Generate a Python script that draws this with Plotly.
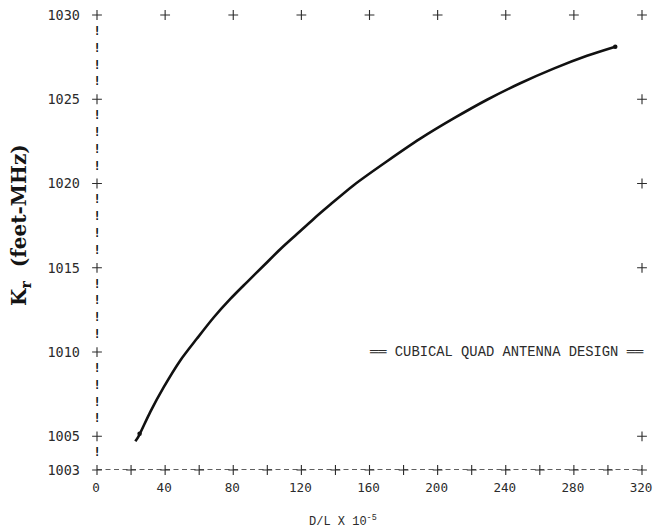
import plotly.graph_objects as go

# ---- data ----
dl_values = [22.5, 24.4, 31.3, 39.1, 48.9, 58.7, 68.5, 78.3, 88.1, 97.8, 107.6, 117.4, 127.2, 137.0,
             150.7, 170.3, 189.8, 209.4, 229.0, 248.5, 268.1, 287.7, 304.3]
kr_values = [1004.7, 1005.0, 1006.45, 1007.9, 1009.5, 1010.8, 1012.05, 1013.15, 1014.15, 1015.12, 1016.1,
             1017.0, 1017.9, 1018.75, 1019.9, 1021.32, 1022.66, 1023.86, 1024.97, 1025.95, 1026.82, 1027.58, 1028.12]
end_marker_dl = [25.0, 304.3]
end_marker_kr = [1005.15, 1028.12]

x_tick_vals = [0, 40, 80, 120, 160, 200, 240, 280, 320]
x_tick_text = ["0", "40", "80", "120", "160", "200", "240", "280", "320"]
y_tick_vals = [1003, 1005, 1010, 1015, 1020, 1025, 1030]
y_tick_text = ["1003", "1005", "1010", "1015", "1020", "1025", "1030"]

x_min, x_max = 0, 320
y_min, y_max = 1003, 1030

ink = "#2b2b2b"
mono = "Liberation Mono, Courier New, monospace"
tickfont = "DejaVu Sans Mono, monospace"

fig = go.Figure()

# bottom axis: dashed line
fig.add_shape(type="line", x0=x_min, x1=x_max, y0=y_min, y1=y_min, xref="x", yref="y",
              line=dict(color=ink, width=1.3, dash="5px,3.5px"))

# left axis "!" characters at each unit
bang_y = [v for v in range(y_min + 1, y_max) if v % 5 != 0]
fig.add_trace(go.Scatter(x=[x_min] * len(bang_y), y=bang_y, mode="text", text=["!"] * len(bang_y),
                         textfont=dict(family=tickfont, size=12, color="#111111", weight="bold"),
                         cliponaxis=False, hoverinfo="skip", showlegend=False))

# "+" tick marks
plus_x, plus_y = [], []
for v in range(0, 321, 20):          # bottom axis
    plus_x.append(v); plus_y.append(y_min)
for v in y_tick_vals[1:]:            # left axis
    plus_x.append(x_min); plus_y.append(v)
for v in x_tick_vals[1:]:            # top row
    plus_x.append(v); plus_y.append(y_max)
for v in [1005, 1015, 1020, 1025]:   # right column
    plus_x.append(x_max); plus_y.append(v)
fig.add_trace(go.Scatter(x=plus_x, y=plus_y, mode="markers",
                         marker=dict(symbol="cross-thin", size=7, line=dict(color=ink, width=1.1)),
                         cliponaxis=False, hoverinfo="skip", showlegend=False))

# curve
fig.add_trace(go.Scatter(x=dl_values, y=kr_values, mode="lines",
                         line=dict(color="#111111", width=2.6, shape="spline", smoothing=0.8),
                         cliponaxis=False, showlegend=False))
fig.add_trace(go.Scatter(x=end_marker_dl, y=end_marker_kr, mode="markers",
                         marker=dict(symbol="circle", size=4.5, color="#111111"),
                         cliponaxis=False, showlegend=False))

fig.add_annotation(x=240.3, y=1010, xref="x", yref="y", text="══ CUBICAL QUAD ANTENNA DESIGN ══",
                   showarrow=False, font=dict(family=mono, size=13.8, color=ink), bgcolor="white")

fig.add_annotation(x=0.451, y=-0.111, xref="paper", yref="paper", text="D/L X 10<sup>-5</sup>",
                   showarrow=False, font=dict(family=mono, size=12, color=ink),
                   xanchor="center", yanchor="middle")

fig.add_annotation(x=-0.141, y=0.539, xref="paper", yref="paper", text="K<sub>r</sub>  (feet-MHz)",
                   textangle=-90, showarrow=False, xanchor="center", yanchor="middle",
                   font=dict(family="DejaVu Serif, serif", size=20, color="#141414", weight="bold"))

fig.update_xaxes(range=[x_min, x_max], tickvals=x_tick_vals, ticktext=x_tick_text,
                 showgrid=False, zeroline=False, showline=False, ticks="",
                 tickfont=dict(family=tickfont, size=12.6, color=ink), ticklabelstandoff=8,
                 ticklabelshift=-1, ticklabeloverflow="allow", automargin=False)
fig.update_yaxes(range=[y_min, y_max], tickvals=y_tick_vals, ticktext=y_tick_text,
                 showgrid=False, zeroline=False, showline=False, ticks="",
                 tickfont=dict(family=tickfont, size=13.5, color=ink), ticklabelstandoff=16,
                 ticklabeloverflow="allow", automargin=False)

fig.update_layout(width=653, height=530, margin=dict(l=97, r=11, t=15, b=60, autoexpand=False),
                  plot_bgcolor="white", paper_bgcolor="white", hovermode=False)

fig.write_html("out.html", config={"displayModeBar": False},
               post_script="document.body.style.margin='0';document.documentElement.style.overflow='hidden';")
